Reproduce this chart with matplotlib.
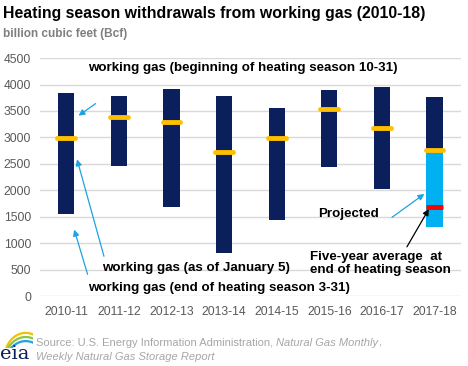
import matplotlib
matplotlib.use('Agg')
import matplotlib.pyplot as plt
from matplotlib.patches import Arc
import numpy as np

plt.rcParams['font.family'] = ['Liberation Sans', 'DejaVu Sans']

# heating seasons
seasons = ['2010-11', '2011-12', '2012-13', '2013-14',
           '2014-15', '2015-16', '2016-17', '2017-18']
# working gas at start of heating season (10-31), Bcf
start_gas = [3840, 3783, 3915, 3783, 3557, 3896, 3953, 3764]
# working gas as of January 5
jan5_gas = [2985, 3381, 3287, 2721, 2985, 3532, 3174, 2759]
# working gas at end of heating season (3-31); last one projected
end_gas = [1563, 2468, 1695, 826, 1443, 2449, 2034, 1317]
# five-year average at end of heating season (2017-18 only)
five_year_avg = 1689

navy = '#0b1f5c'
yellow = '#ffc000'
light_blue = '#00b0f0'
arrow_blue = '#1ca3e3'
grey = '#595959'

fig = plt.figure(figsize=(4.68, 3.66), dpi=100)
ax = fig.add_axes([0.0855, 0.19, 0.899, 0.6515])

x = np.arange(len(seasons))
w = 0.31
n = len(seasons)

# historical seasons: full navy bar from end to start
ax.bar(x[:-1], np.array(start_gas[:-1]) - np.array(end_gas[:-1]),
       bottom=end_gas[:-1], width=w, color=navy, zorder=3)
# current season: navy until Jan 5, then projected in light blue
ax.bar(x[-1], start_gas[-1] - jan5_gas[-1], bottom=jan5_gas[-1],
       width=w, color=navy, zorder=3)
ax.bar(x[-1], jan5_gas[-1] - end_gas[-1], bottom=end_gas[-1],
       width=w, color=light_blue, zorder=3)

# January 5 markers
ax.hlines(jan5_gas, x - 0.17, x + 0.17, colors=yellow, linewidth=3.5,
          capstyle='round', zorder=4)
ax.hlines(five_year_avg, x[-1] - 0.155, x[-1] + 0.155, colors='#ff0000',
          linewidth=3.5, zorder=4)

ax.set_xlim(-0.5, n - 0.5)
ax.set_ylim(0, 4500)
ax.set_yticks(np.arange(0, 4501, 500))
ax.set_xticks(x)
ax.set_xticklabels(seasons)
ax.tick_params(axis='both', length=0, labelsize=8.7, labelcolor=grey)
ax.tick_params(axis='y', pad=6.5)
ax.tick_params(axis='x', pad=7)
ax.grid(axis='y', color='#d9d9d9', linewidth=1, zorder=0)
for s in ax.spines.values():
    s.set_visible(False)

# annotations
bold = dict(fontsize=9.6, fontweight='bold', color='black')
ax.text(0.42, 4312, 'working gas (beginning of heating season 10-31)',
        va='center', ha='left', **bold)
ax.annotate('', xy=(0.19, 3382), xytext=(0.6, 3670),
            arrowprops=dict(arrowstyle='-|>', color=arrow_blue, lw=0.9,
                            mutation_scale=9))
ax.text(0.68, 543, 'working gas (as of January 5)',
        va='center', ha='left', **bold)
ax.annotate('', xy=(0.19, 2638), xytext=(0.73, 708),
            arrowprops=dict(arrowstyle='-|>', color=arrow_blue, lw=0.9,
                            mutation_scale=9))
ax.text(0.42, 155, 'working gas (end of heating season 3-31)',
        va='center', ha='left', **bold)
ax.annotate('', xy=(0.135, 1312), xytext=(0.42, 368),
            arrowprops=dict(arrowstyle='-|>', color=arrow_blue, lw=0.9,
                            mutation_scale=9))
ax.text(4.79, 1557, 'Projected', va='center', ha='left', **bold)
ax.annotate('', xy=(6.85, 1966), xytext=(6.15, 1462),
            arrowprops=dict(arrowstyle='-|>', color=arrow_blue, lw=0.9,
                            mutation_scale=9))
ax.text(4.63, 625, 'Five-year average  at\nend of heating season',
        va='center', ha='left', linespacing=1.07, **bold)
ax.annotate('', xy=(6.92, 1695), xytext=(6.45, 891),
            arrowprops=dict(arrowstyle='-|>', color='black', lw=0.9,
                            mutation_scale=9))

# title and units
fig.text(0.006, 0.962, 'Heating season withdrawals from working gas (2010-18)',
         fontsize=11.4, fontweight='bold', va='center', ha='left')
fig.text(0.006, 0.907, 'billion cubic feet (Bcf)', fontsize=8.5,
         fontweight='bold', color='#7f7f7f', va='center', ha='left')

# source note
src = dict(fontsize=8, color='#a6a6a6')
t1 = fig.text(0.077, 0.055, 'Source: U.S. Energy Information Administration, ',
              va='baseline', ha='left', **src)
t2 = ax.annotate('Natural Gas Monthly', xy=(1, 0), xycoords=t1,
                 va='bottom', ha='left', style='italic', **src)
ax.annotate(',', xy=(1, 0), xycoords=t2, va='bottom', ha='left', **src)
fig.text(0.077, 0.017, 'Weekly Natural Gas Storage Report',
         va='baseline', ha='left', style='italic', **src)

# eia logo
fig.text(0.0, 0.02, 'eia', fontsize=14, family='DejaVu Serif',
         color='#0b1f5c', va='baseline', ha='left')
lax = fig.add_axes([0.01, 0.05, 0.06, 0.045])
lax.set_xlim(0, 1)
lax.set_ylim(0, 1)
lax.axis('off')
for dy, c in [(0.0, '#f2c100'), (-0.25, '#8cc63f'), (-0.5, '#1ca3e3')]:
    lax.add_patch(Arc((0.75, -0.6 + dy), 1.5, 3.0, theta1=40, theta2=165,
                      color=c, lw=1.6))

fig.savefig('out.png', dpi=100)
